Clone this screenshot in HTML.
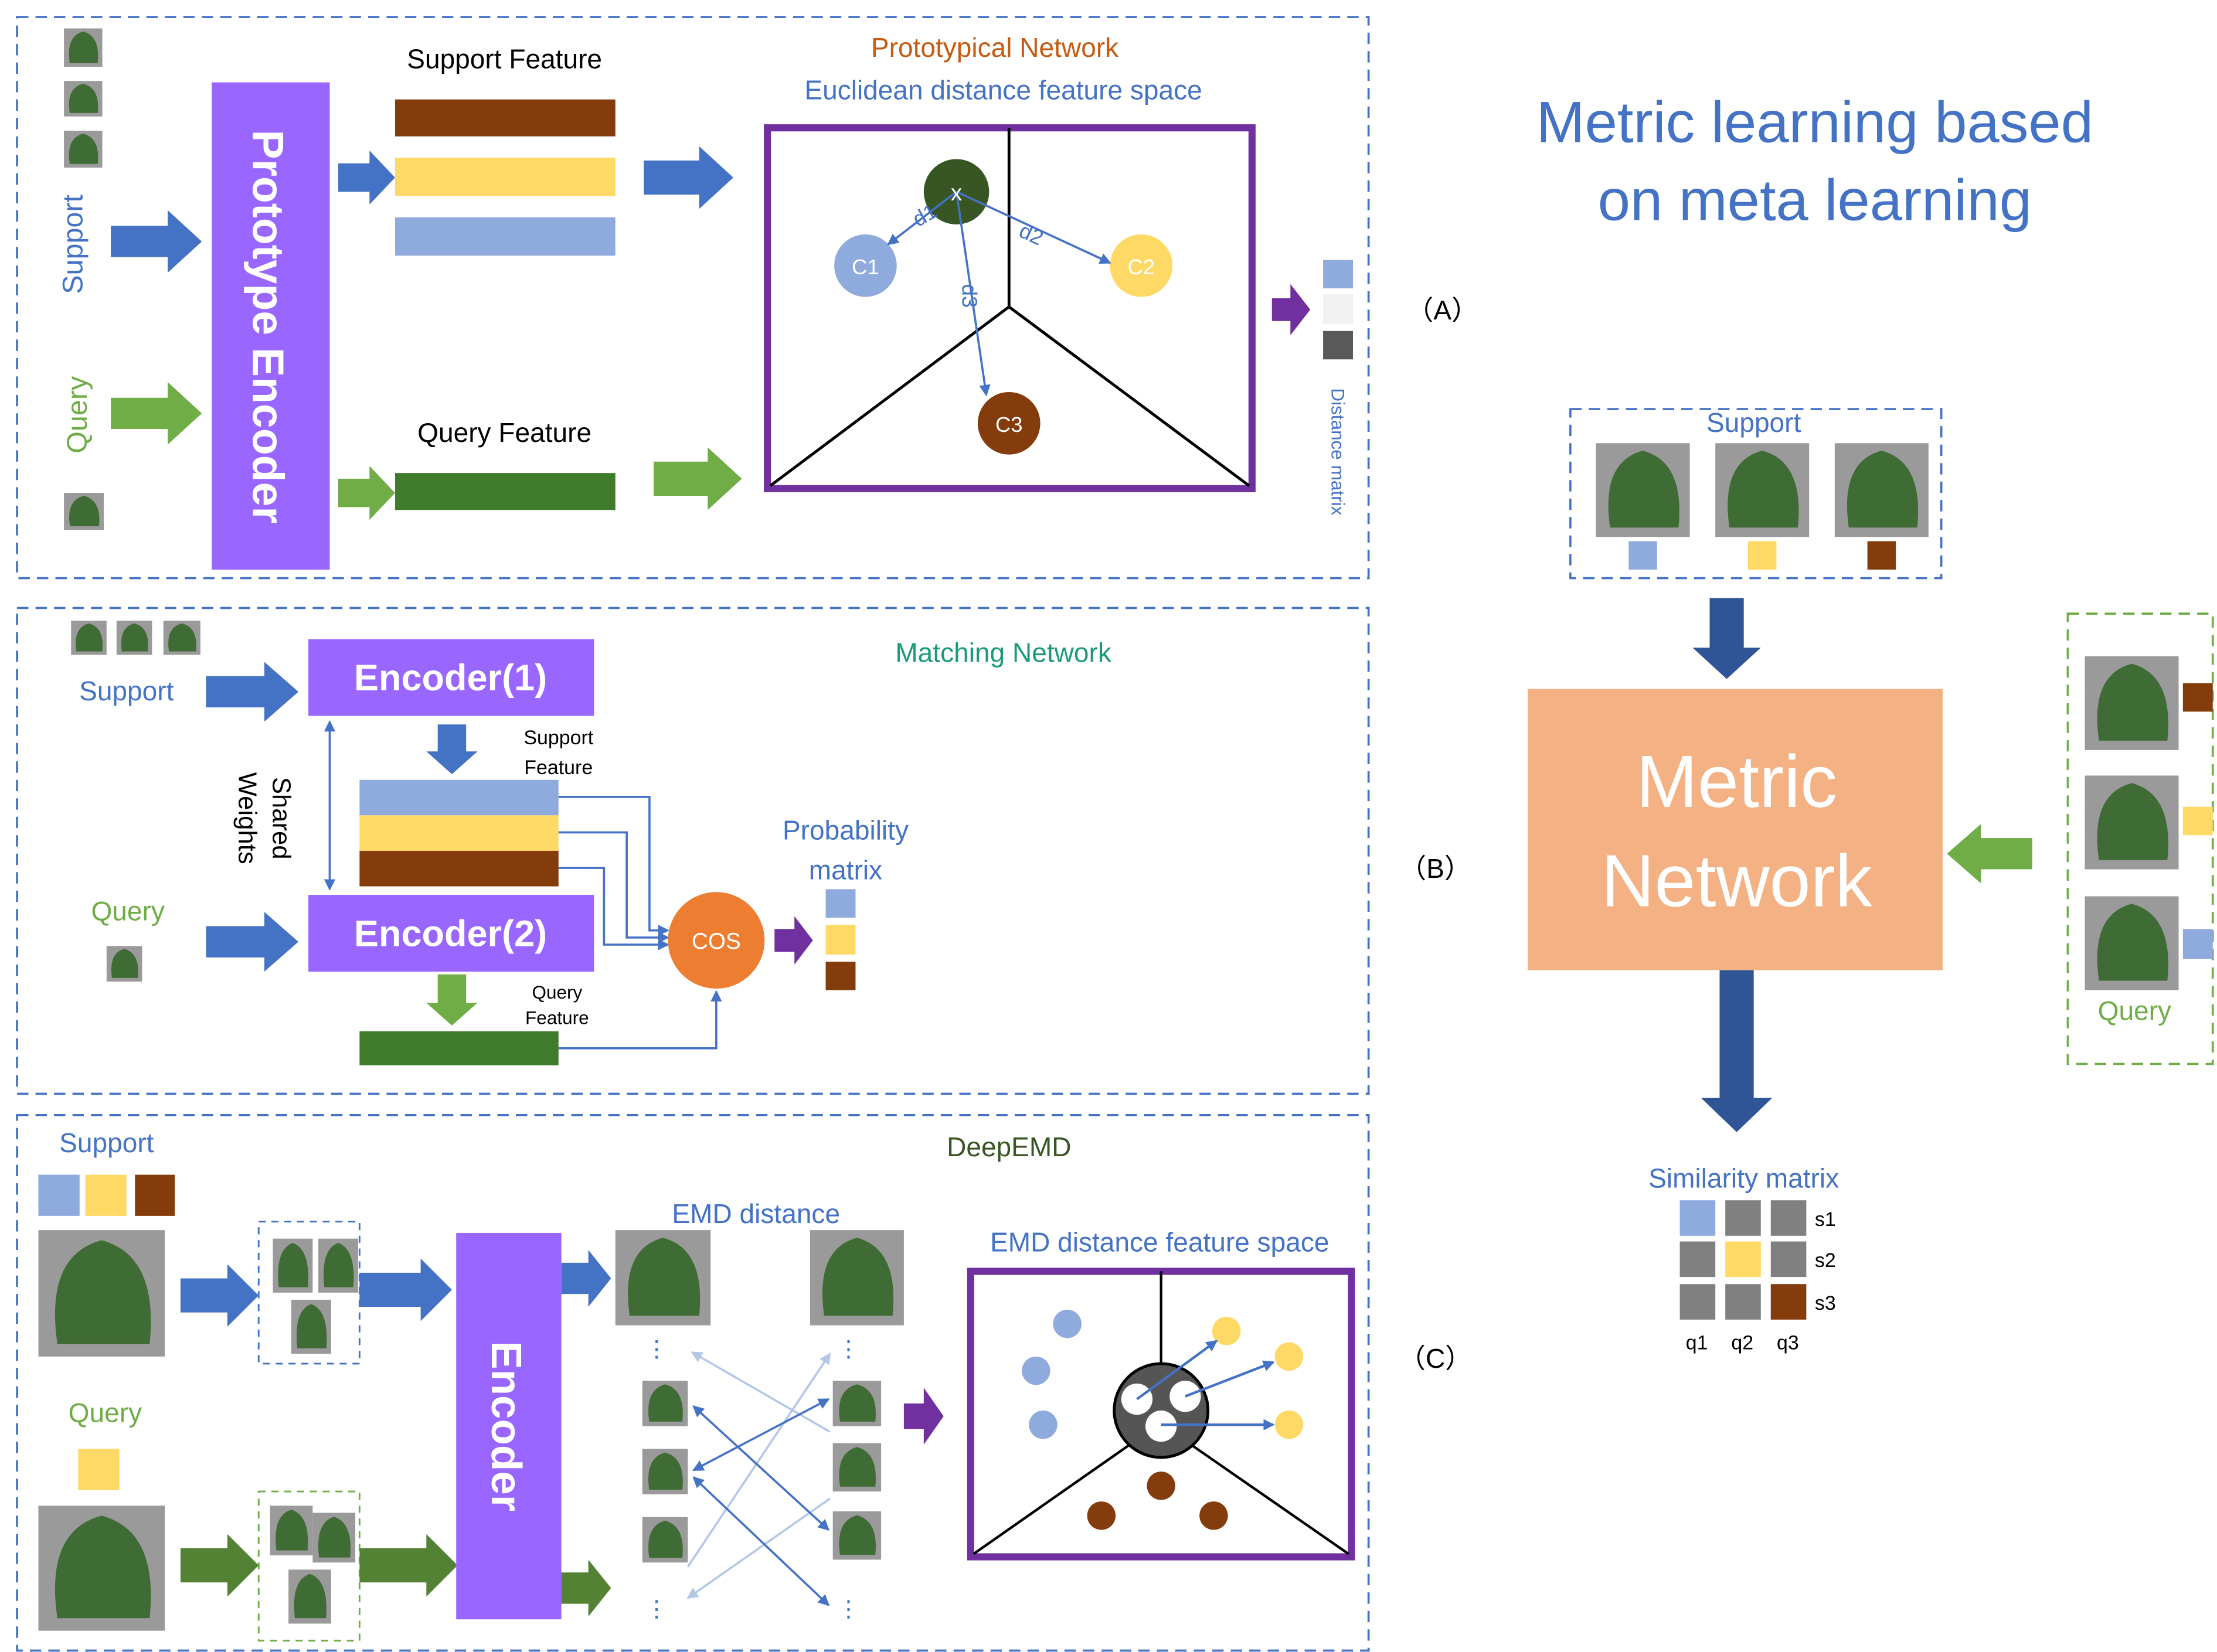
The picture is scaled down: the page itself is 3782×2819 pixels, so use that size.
<!DOCTYPE html>
<html><head><meta charset="utf-8"><style>
html,body{margin:0;padding:0;background:#fff;}
svg{display:block}
text{font-family:"Liberation Sans","Noto Sans CJK SC",sans-serif;}
</style></head><body>
<svg id="s" width="3782" height="2819" viewBox="0 0 1560 1163" preserveAspectRatio="none" xmlns="http://www.w3.org/2000/svg">
<defs>
<marker id="ah" markerWidth="8" markerHeight="8" refX="7" refY="4" orient="auto" markerUnits="userSpaceOnUse"><path d="M0,0 L8,4 L0,8 z" fill="#4472c4"/></marker>
<marker id="ahl" markerWidth="8" markerHeight="8" refX="7" refY="4" orient="auto" markerUnits="userSpaceOnUse"><path d="M0,0 L8,4 L0,8 z" fill="#b4c7e7"/></marker>
<marker id="as" markerWidth="8" markerHeight="8" refX="1" refY="4" orient="auto" markerUnits="userSpaceOnUse"><path d="M8,0 L0,4 L8,8 z" fill="#4472c4"/></marker>
</defs>
<rect width="1560" height="1163" fill="#fff"/>
<!-- panels -->
<g fill="none" stroke="#4472c4" stroke-width="1.5" stroke-dasharray="8,5">
<rect x="12" y="12" width="951" height="395"/>
<rect x="12" y="428" width="951" height="342"/>
<rect x="12" y="785" width="951" height="377"/>
<rect x="1105" y="288" width="261" height="119"/>
</g>
<rect x="1455" y="432" width="102" height="317" fill="none" stroke="#70ad47" stroke-width="1.5" stroke-dasharray="8,5"/>
<rect x="182" y="860" width="71" height="100" fill="none" stroke="#4472c4" stroke-width="1.2" stroke-dasharray="5,4"/>
<rect x="182" y="1050" width="71" height="105" fill="none" stroke="#70ad47" stroke-width="1.2" stroke-dasharray="5,4"/>

<g id="arrows"></g>
<g id="leaves"></g>

<!-- title -->
<text x="1277" y="100" font-size="41" fill="#4472c4" text-anchor="middle">Metric learning based</text>
<text x="1277" y="155" font-size="41" fill="#4472c4" text-anchor="middle">on meta learning</text>
<text x="1015" y="225" font-size="19" text-anchor="middle">（A）</text>
<text x="1010" y="618" font-size="19" text-anchor="middle">（B）</text>
<text x="1010" y="963" font-size="19" text-anchor="middle">（C）</text>

<!-- Panel A -->
<text transform="translate(58,172) rotate(-90)" font-size="20" fill="#4472c4" text-anchor="middle">Support</text>
<text transform="translate(61,292) rotate(-90)" font-size="20" fill="#70ad47" text-anchor="middle">Query</text>
<rect x="149" y="58" width="83" height="343" fill="#9966ff"/>
<text transform="translate(178,230) rotate(90)" font-size="31" font-weight="bold" fill="#fff" text-anchor="middle">Prototype Encoder</text>
<text x="355" y="48" font-size="19" text-anchor="middle">Support Feature</text>
<text x="355" y="311" font-size="19" text-anchor="middle">Query Feature</text>
<rect x="278" y="70" width="155" height="26" fill="#843c0c"/>
<rect x="278" y="111" width="155" height="27" fill="#ffd966"/>
<rect x="278" y="153" width="155" height="27" fill="#8faadc"/>
<rect x="278" y="333" width="155" height="26" fill="#3e7b2b"/>
<text x="700" y="40" font-size="19" fill="#c55a11" text-anchor="middle">Prototypical Network</text>
<text x="706" y="70" font-size="19" fill="#4472c4" text-anchor="middle">Euclidean distance feature space</text>
<rect x="540" y="90" width="341" height="254" fill="none" stroke="#7030a0" stroke-width="5"/>
<g stroke="#000" stroke-width="2" fill="none"><path d="M710,90 L710,216 M710,216 L542,342 M710,216 L879,342"/></g>
<circle cx="673" cy="135" r="23" fill="#375623"/>
<circle cx="609" cy="187" r="22" fill="#8faadc"/>
<circle cx="803" cy="187" r="22" fill="#ffd966"/>
<circle cx="710" cy="298" r="22" fill="#843c0c"/>
<g stroke="#4472c4" stroke-width="1.5" marker-end="url(#ah)"><line x1="673" y1="135" x2="625" y2="172"/><line x1="673" y1="135" x2="781" y2="185"/><line x1="673" y1="135" x2="694" y2="278"/></g>
<text x="673" y="141" font-size="16" fill="#fff" text-anchor="middle">x</text>
<text x="609" y="193" font-size="15" fill="#fff" text-anchor="middle">C1</text>
<text x="803" y="193" font-size="15" fill="#fff" text-anchor="middle">C2</text>
<text x="710" y="304" font-size="15" fill="#fff" text-anchor="middle">C3</text>
<text x="646" y="160" font-size="15" fill="#4472c4" transform="rotate(-30 646 160)">d1</text>
<text x="716" y="166" font-size="15" fill="#4472c4" transform="rotate(25 716 166)">d2</text>
<text x="677" y="200" font-size="15" fill="#4472c4" transform="rotate(90 677 200)">d3</text>
<rect x="931" y="183" width="21" height="20" fill="#8faadc"/>
<rect x="931" y="207" width="21" height="21" fill="#f2f2f2"/>
<rect x="931" y="233" width="21" height="20" fill="#595959"/>
<text transform="translate(937,318) rotate(90)" font-size="13" fill="#4472c4" text-anchor="middle">Distance matrix</text>

<!-- Panel B -->
<text x="706" y="466" font-size="19" fill="#1a9a7a" text-anchor="middle">Matching Network</text>
<text x="89" y="493" font-size="19" fill="#4472c4" text-anchor="middle">Support</text>
<text x="90" y="648" font-size="19" fill="#70ad47" text-anchor="middle">Query</text>
<rect x="217" y="450" width="201" height="54" fill="#9966ff"/>
<rect x="217" y="630" width="201" height="54" fill="#9966ff"/>
<text x="317" y="486" font-size="26" font-weight="bold" fill="#fff" text-anchor="middle">Encoder(1)</text>
<text x="317" y="666" font-size="26" font-weight="bold" fill="#fff" text-anchor="middle">Encoder(2)</text>
<text transform="translate(192,576) rotate(90)" font-size="18" text-anchor="middle">Shared</text>
<text transform="translate(168,576) rotate(90)" font-size="18" text-anchor="middle">Weights</text>
<line x1="232" y1="508" x2="232" y2="626" stroke="#4472c4" stroke-width="1.5" marker-end="url(#ah)" marker-start="url(#as)"/>
<text x="393" y="524" font-size="14" text-anchor="middle">Support</text>
<text x="393" y="545" font-size="14" text-anchor="middle">Feature</text>
<text x="392" y="703" font-size="13" text-anchor="middle">Query</text>
<text x="392" y="721" font-size="13" text-anchor="middle">Feature</text>
<rect x="253" y="549" width="140" height="25" fill="#8faadc"/>
<rect x="253" y="574" width="140" height="25" fill="#ffd966"/>
<rect x="253" y="599" width="140" height="25" fill="#843c0c"/>
<rect x="253" y="726" width="140" height="24" fill="#3e7b2b"/>
<g stroke="#4472c4" stroke-width="1.5" fill="none" marker-end="url(#ah)">
<path d="M393,561 L457,561 L457,655 L470,655"/>
<path d="M393,586 L441,586 L441,660 L470,660"/>
<path d="M393,611 L425,611 L425,665 L470,665"/>
<path d="M393,738 L504,738 L504,698"/>
</g>
<circle cx="504" cy="662" r="34" fill="#ed7d31"/>
<text x="504" y="668" font-size="16" fill="#fff" text-anchor="middle">COS</text>
<text x="595" y="591" font-size="19" fill="#4472c4" text-anchor="middle">Probability</text>
<text x="595" y="619" font-size="19" fill="#4472c4" text-anchor="middle">matrix</text>
<rect x="581" y="626" width="21" height="20" fill="#8faadc"/>
<rect x="581" y="651" width="21" height="21" fill="#ffd966"/>
<rect x="581" y="677" width="21" height="20" fill="#843c0c"/>

<!-- Panel C -->
<text x="75" y="811" font-size="19" fill="#4472c4" text-anchor="middle">Support</text>
<text x="74" y="1001" font-size="19" fill="#70ad47" text-anchor="middle">Query</text>
<text x="710" y="814" font-size="19" fill="#375623" text-anchor="middle">DeepEMD</text>
<rect x="27" y="827" width="29" height="29" fill="#8faadc"/>
<rect x="60" y="827" width="29" height="29" fill="#ffd966"/>
<rect x="95" y="827" width="28" height="29" fill="#843c0c"/>
<rect x="55" y="1020" width="29" height="29" fill="#ffd966"/>
<rect x="321" y="868" width="74" height="272" fill="#9966ff"/>
<text transform="translate(346,1004) rotate(90)" font-size="30" font-weight="bold" fill="#fff" text-anchor="middle">Encoder</text>
<text x="532" y="861" font-size="19" fill="#4472c4" text-anchor="middle">EMD distance</text>
<text x="816" y="881" font-size="19" fill="#4472c4" text-anchor="middle">EMD distance feature space</text>
<g fill="#4472c4" font-size="16" text-anchor="middle"><text x="462" y="955">⋮</text><text x="597" y="955">⋮</text><text x="462" y="1138">⋮</text><text x="597" y="1138">⋮</text></g>
<g stroke="#b4c7e7" stroke-width="1.5" marker-end="url(#ahl)">
<line x1="584" y1="1008" x2="487" y2="952"/>
<line x1="484" y1="1103" x2="584" y2="953"/>
<line x1="584" y1="1055" x2="484" y2="1125"/>
</g>
<g stroke="#4472c4" stroke-width="1.5" marker-end="url(#ah)" marker-start="url(#as)">
<line x1="488" y1="990" x2="583" y2="1077"/>
<line x1="488" y1="1035" x2="583" y2="985"/>
<line x1="488" y1="1040" x2="583" y2="1130"/>
</g>
<rect x="683" y="895" width="268" height="201" fill="none" stroke="#7030a0" stroke-width="5"/>
<g stroke="#000" stroke-width="1.8"><line x1="817" y1="895" x2="817" y2="962"/><line x1="795" y1="1017" x2="685" y2="1094"/><line x1="838" y1="1017" x2="949" y2="1094"/></g>
<circle cx="817" cy="993" r="33" fill="#555" stroke="#000" stroke-width="2"/>
<circle cx="800" cy="985" r="11" fill="#fff"/><circle cx="834" cy="983" r="11" fill="#fff"/><circle cx="817" cy="1004" r="11" fill="#fff"/>
<g fill="#8faadc"><circle cx="751" cy="932" r="10"/><circle cx="729" cy="965" r="10"/><circle cx="734" cy="1003" r="10"/></g>
<g fill="#ffd966"><circle cx="863" cy="937" r="10"/><circle cx="907" cy="955" r="10"/><circle cx="907" cy="1003" r="10"/></g>
<g fill="#843c0c"><circle cx="817" cy="1046" r="10"/><circle cx="775" cy="1067" r="10"/><circle cx="854" cy="1067" r="10"/></g>
<g stroke="#4472c4" stroke-width="1.8" marker-end="url(#ah)"><line x1="800" y1="985" x2="856" y2="944"/><line x1="834" y1="983" x2="896" y2="959"/><line x1="817" y1="1003" x2="896" y2="1003"/></g>

<!-- Right -->
<text x="1234" y="304" font-size="19" fill="#4472c4" text-anchor="middle">Support</text>
<rect x="1146" y="381" width="20" height="20" fill="#8faadc"/>
<rect x="1230" y="381" width="20" height="20" fill="#ffd966"/>
<rect x="1314" y="381" width="20" height="20" fill="#843c0c"/>
<rect x="1075" y="485" width="292" height="198" fill="#f4b183"/>
<text x="1222" y="568" font-size="52" fill="#fff" text-anchor="middle">Metric</text>
<text x="1222" y="638" font-size="52" fill="#fff" text-anchor="middle">Network</text>
<rect x="1536" y="481" width="21" height="20" fill="#843c0c"/>
<rect x="1536" y="568" width="21" height="20" fill="#ffd966"/>
<rect x="1536" y="654" width="21" height="21" fill="#8faadc"/>
<text x="1502" y="718" font-size="19" fill="#70ad47" text-anchor="middle">Query</text>
<text x="1227" y="836" font-size="19" fill="#4472c4" text-anchor="middle">Similarity matrix</text>
<g>
<rect x="1182" y="845" width="25" height="25" fill="#8faadc"/><rect x="1214" y="845" width="25" height="25" fill="#808080"/><rect x="1246" y="845" width="25" height="25" fill="#808080"/>
<rect x="1182" y="874" width="25" height="25" fill="#808080"/><rect x="1214" y="874" width="25" height="25" fill="#ffd966"/><rect x="1246" y="874" width="25" height="25" fill="#808080"/>
<rect x="1182" y="904" width="25" height="25" fill="#808080"/><rect x="1214" y="904" width="25" height="25" fill="#808080"/><rect x="1246" y="904" width="25" height="25" fill="#843c0c"/>
</g>
<g font-size="14"><text x="1277" y="863">s1</text><text x="1277" y="892">s2</text><text x="1277" y="922">s3</text>
<text x="1194" y="950" text-anchor="middle">q1</text><text x="1226" y="950" text-anchor="middle">q2</text><text x="1258" y="950" text-anchor="middle">q3</text></g>
</svg>
<script>
var NS="http://www.w3.org/2000/svg";
function arrow(x1,y1,x2,y2,col,h,H,L){
 var g=document.getElementById('arrows');
 var dx=x2-x1,dy=y2-y1,len=Math.hypot(dx,dy),ux=dx/len,uy=dy/len,px=-uy,py=ux;
 var bx=x2-ux*L,by=y2-uy*L;
 var pts=[[x1+px*h,y1+py*h],[bx+px*h,by+py*h],[bx+px*H,by+py*H],[x2,y2],[bx-px*H,by-py*H],[bx-px*h,by-py*h],[x1-px*h,y1-py*h]];
 var p=document.createElementNS(NS,'polygon');
 p.setAttribute('points',pts.map(function(a){return a[0]+','+a[1]}).join(' '));
 p.setAttribute('fill',col);g.appendChild(p);
}
var B="#4472c4",G="#70ad47",P="#7030a0",DB="#2f5597",DG="#548235";
arrow(78,170,142,170,B,11,22,24);arrow(78,291,142,291,G,11,22,24);
arrow(238,125,278,125,B,10,19,18);arrow(238,347,278,347,G,10,19,18);
arrow(453,125,516,125,B,12,22,24);arrow(460,337,522,337,G,12,22,24);
arrow(895,218,922,218,P,8,18,14);
arrow(145,487,210,487,B,11,21,24);arrow(145,663,210,663,B,11,21,24);
arrow(318,510,318,545,B,10,18,16);arrow(318,686,318,722,G,10,18,16);
arrow(545,662,572,662,P,8,17,13);
arrow(127,912,182,912,B,12,22,22);arrow(253,908,318,908,B,12,22,22);
arrow(127,1102,182,1102,DG,12,22,22);arrow(253,1102,322,1102,DG,12,22,22);
arrow(395,900,430,900,B,11,20,16);arrow(395,1118,430,1118,DG,11,20,16);
arrow(636,997,664,997,P,9,20,14);
arrow(1215,421,1215,478,DB,12,24,22);arrow(1222,683,1222,797,DB,12,25,24);
arrow(1430,601,1370,601,G,11,21,24);
// leaves
var L=document.getElementById('leaves');
function leaf(x,y,w,hh,bg){
 var r=document.createElementNS(NS,'rect');r.setAttribute('x',x);r.setAttribute('y',y);r.setAttribute('width',w);r.setAttribute('height',hh);r.setAttribute('fill',bg||'#9a9a9a');L.appendChild(r);
 var e=document.createElementNS(NS,'path');
 var cx=x+w/2,cy=y+hh/2;
 e.setAttribute('d','M'+(x+w*0.15)+','+(y+hh*0.9)+' Q'+(x+w*0.05)+','+(y+hh*0.2)+' '+cx+','+(y+hh*0.08)+' Q'+(x+w*0.95)+','+(y+hh*0.2)+' '+(x+w*0.88)+','+(y+hh*0.9)+' Z');
 e.setAttribute('fill','#3f6b34');L.appendChild(e);
}
[[45,20,27,27],[45,57,27,25],[45,92,27,26],[45,347,28,26],[50,437,25,24],[82,437,25,24],[115,437,26,24],[75,666,25,25],
[27,866,89,89],[27,1060,89,88],[433,866,67,67],[570,866,66,67],[452,972,32,32],[452,1020,32,32],[452,1068,32,32],[586,972,34,32],[586,1016,34,34],[586,1064,34,34],
[192,872,28,38],[224,872,28,38],[205,915,28,38],[190,1060,30,35],[220,1065,30,35],[203,1105,30,38],
[1123,312,66,66],[1207,312,66,66],[1291,312,66,66],[1467,462,66,66],[1467,546,66,66],[1467,631,66,66]].forEach(function(a){leaf(a[0],a[1],a[2],a[3]);});
</script>
</body></html>
